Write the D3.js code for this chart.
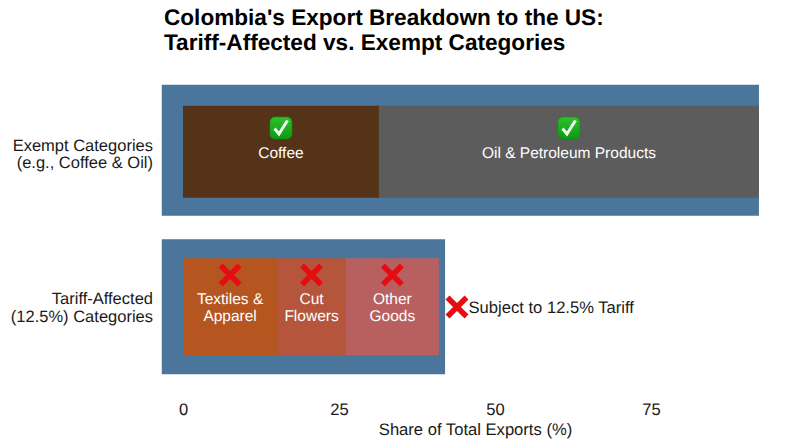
<!DOCTYPE html>
<html>
<head>
<meta charset="utf-8">
<script src="https://cdn.jsdelivr.net/npm/d3@7"></script>
<style>
  html, body { margin: 0; padding: 0; background: #fff; }
  svg { display: block; }
  text { font-family: "Liberation Sans", Arial, sans-serif; text-rendering: geometricPrecision; }
</style>
</head>
<body>
<svg width="800" height="447">
  <defs>
    <linearGradient id="checkFill" x1="0" y1="0" x2="0" y2="1">
      <stop offset="0" stop-color="#2cc22c"></stop>
      <stop offset="1" stop-color="#0c9a10"></stop>
    </linearGradient>
  </defs>
</svg>
<script>
// values
const categories = ["Exempt", "Tariff"];
const categoryLabels = [["Exempt Categories", "(e.g., Coffee & Oil)"], ["Tariff-Affected", "(12.5%) Categories"]];
const backgroundStart = [-3.4, -3.4];
const backgroundEnd = [92.3, 42];
const segmentRow = ["Exempt", "Exempt", "Tariff", "Tariff", "Tariff"];
const segmentNames = [["Coffee"], ["Oil & Petroleum Products"], ["Textiles &", "Apparel"], ["Cut", "Flowers"], ["Other", "Goods"]];
const segmentValues = [31.4, 60.9, 15.1, 11, 14.9];
const segmentColors = ["#553318", "#5c5c5c", "#b5551f", "#b5563c", "#b86060"];
const xTicks = [0, 25, 50, 75];

const svg = d3.select("svg");

const x = d3.scaleLinear().domain([0, 75]).range([183, 651]);
const y = d3.scaleBand().domain(categories).range([73, 384]).padding(0);

// bar geometry per row, measured from the band centre
const outer = { Exempt: [-66, 65], Tariff: [-67, 68] };
const inner = { Exempt: [-45, 47], Tariff: [-48, 49] };
const bandMid = d => y(d) + y.bandwidth() / 2;

// blue backing bars
svg.selectAll("rect.bg")
  .data(categories)
  .join("rect")
  .attr("class", "bg")
  .attr("x", (d, i) => x(backgroundStart[i]))
  .attr("width", (d, i) => x(backgroundEnd[i]) - x(backgroundStart[i]))
  .attr("y", d => bandMid(d) + outer[d][0])
  .attr("height", d => outer[d][1] - outer[d][0])
  .attr("fill", "#4a769c");

// stacked segments
let running = {};
const segments = segmentValues.map((v, i) => {
  const row = segmentRow[i];
  const start = running[row] || 0;
  running[row] = start + v;
  return { row, start, end: start + v, names: segmentNames[i], color: segmentColors[i] };
});

svg.selectAll("rect.seg")
  .data(segments)
  .join("rect")
  .attr("class", "seg")
  .attr("x", d => x(d.start))
  .attr("width", d => x(d.end) - x(d.start))
  .attr("y", d => bandMid(d.row) + inner[d.row][0])
  .attr("height", d => inner[d.row][1] - inner[d.row][0])
  .attr("fill", d => d.color);

function drawCheck(cx, cy) {
  const g = svg.append("g").attr("transform", `translate(${cx},${cy})`);
  g.append("rect").attr("x", -11).attr("y", -11).attr("width", 22).attr("height", 22).attr("rx", 5)
    .attr("fill", "url(#checkFill)").attr("stroke", "#0f8f12").attr("stroke-width", 0.6);
  g.append("path").attr("d", "M-6.5,0.5 L-2,6 L6.5,-7.5")
    .attr("fill", "none").attr("stroke", "#f4fbf2").attr("stroke-width", 3);
}

function drawCross(cx, cy) {
  svg.append("path")
    .attr("transform", `translate(${cx},${cy})`)
    .attr("d", "M-9.5,-9.5 L9.5,9.5 M9.5,-9.5 L-9.5,9.5")
    .attr("fill", "none").attr("stroke", "#e60d12").attr("stroke-width", 5.6);
}

// labels and icons inside the segments
segments.forEach(d => {
  const cx = (x(d.start) + x(Math.min(d.end, backgroundEnd[0]))) / 2;
  const top = d.row === "Exempt" ? 158 : 304;
  const t = svg.append("text")
    .attr("text-anchor", "middle")
    .attr("fill", "#fff")
    .attr("font-size", 15.5);
  d.names.forEach((line, i) => {
    t.append("tspan").attr("x", cx).attr("y", top + i * 16.5).text(line);
  });
  if (d.row === "Exempt") drawCheck(cx, 128);
  else drawCross(cx, 275);
});

// note next to the tariff bar
drawCross(457, 307);
svg.append("text").attr("x", 468.5).attr("y", 313)
  .attr("font-size", 16.6).attr("fill", "#1a1a1a").text("Subject to 12.5% Tariff");

// category labels
const labelBaseline = [150.5, 304];
categories.forEach((c, i) => {
  const t = svg.append("text").attr("text-anchor", "end").attr("fill", "#1a1a1a").attr("font-size", 16.5);
  categoryLabels[i].forEach((line, j) => {
    t.append("tspan").attr("x", 153).attr("y", labelBaseline[i] + j * 17.5).text(line);
  });
});

// x axis, no line or tick marks
const axis = svg.append("g")
  .attr("transform", "translate(0,400)")
  .call(d3.axisBottom(x).tickValues(xTicks).tickSize(0).tickPadding(3));
axis.select(".domain").remove();
axis.selectAll("text")
  .attr("font-family", "Liberation Sans, Arial, sans-serif")
  .attr("font-size", 16.6)
  .attr("fill", "#1a1a1a");

svg.append("text").attr("x", 475.5).attr("y", 435)
  .attr("text-anchor", "middle").attr("font-size", 16.6).attr("fill", "#1a1a1a")
  .text("Share of Total Exports (%)");

// title
const title = svg.append("text").attr("font-weight", "bold").attr("font-size", 22.6).attr("fill", "#000");
title.append("tspan").attr("x", 164).attr("y", 25).text("Colombia's Export Breakdown to the US:");
title.append("tspan").attr("x", 164).attr("y", 49.5).text("Tariff-Affected vs. Exempt Categories");
</script>
</body>
</html>
